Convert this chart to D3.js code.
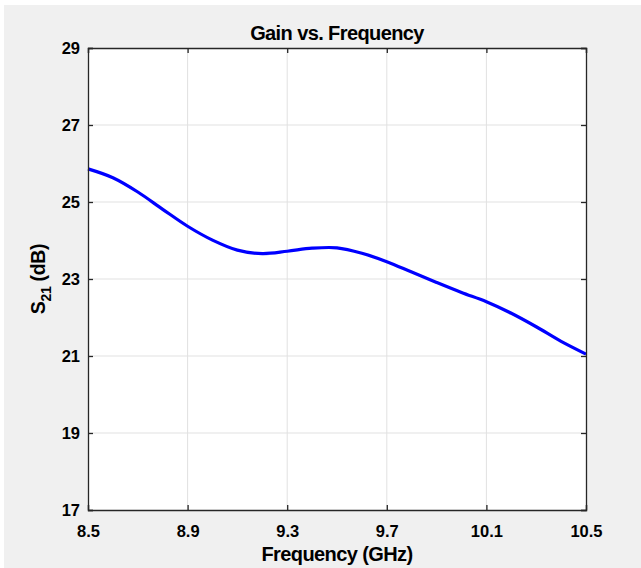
<!DOCTYPE html>
<html>
<head>
<meta charset="utf-8">
<script src="https://cdn.jsdelivr.net/npm/d3@7"></script>
<style>
  html, body { margin: 0; padding: 0; background: #ffffff; }
  svg { display: block; }
  text { font-family: "Liberation Sans", Arial, Helvetica, sans-serif; font-weight: bold; fill: #000; }
</style>
</head>
<body>
<script>
// ---- data ----
const frequency = [8.5, 8.6, 8.7, 8.8, 8.9, 9.0, 9.1, 9.2, 9.3, 9.4, 9.5, 9.6, 9.7, 9.8, 9.9, 10.0, 10.1, 10.2, 10.3, 10.4, 10.5];
const gain      = [25.86, 25.63, 25.26, 24.81, 24.37, 24.01, 23.75, 23.66, 23.72, 23.80, 23.81, 23.67, 23.45, 23.18, 22.91, 22.65, 22.41, 22.11, 21.76, 21.38, 21.05];
const xTicks = [8.5, 8.9, 9.3, 9.7, 10.1, 10.5];
const yTicks = [17, 19, 21, 23, 25, 27, 29];
const titleText = "Gain vs. Frequency";
const xLabelText = "Frequency (GHz)";

// ---- layout ----
const W = 641, H = 568;
const L = 88, R = 586, T = 48, B = 510;

const svg = d3.select("body").append("svg").attr("width", W).attr("height", H);
svg.append("rect").attr("x", 4).attr("y", 5).attr("width", W - 4).attr("height", H - 5).attr("fill", "#f0f0f0");
svg.append("rect").attr("x", L).attr("y", T).attr("width", R - L).attr("height", B - T).attr("fill", "#ffffff");

const x = d3.scaleLinear().domain([8.5, 10.5]).range([L, R]);
const y = d3.scaleLinear().domain([17, 29]).range([B, T]);

// grid
const grid = svg.append("g");
grid.selectAll("line.gx").data(xTicks.slice(1, -1)).join("line")
  .attr("x1", d => x(d)).attr("x2", d => x(d)).attr("y1", T).attr("y2", B)
  .attr("stroke", "#e1e1e1").attr("stroke-width", 1);
grid.selectAll("line.gy").data(yTicks.slice(1, -1)).join("line")
  .attr("y1", d => y(d)).attr("y2", d => y(d)).attr("x1", L).attr("x2", R)
  .attr("stroke", "#e1e1e1").attr("stroke-width", 1);

// line
const line = d3.line().x((d, i) => x(frequency[i])).y(d => y(d)).curve(d3.curveCatmullRom.alpha(0.5));
svg.append("path").datum(gain).attr("d", line)
  .attr("fill", "none").attr("stroke", "#0000ff").attr("stroke-width", 3.2)
  .attr("stroke-linejoin", "round").attr("stroke-linecap", "butt");

// axes
const axisColor = "#262626";
const tk = 5;
const fmt = d => String(d);
const gxB = svg.append("g").attr("transform", `translate(0,${B})`)
  .call(d3.axisBottom(x).tickValues(xTicks).tickSize(-tk).tickPadding(10).tickFormat(fmt));
const gxT = svg.append("g").attr("transform", `translate(0,${T})`)
  .call(d3.axisTop(x).tickValues(xTicks).tickSize(-tk).tickFormat(""));
const gyL = svg.append("g").attr("transform", `translate(${L},0)`)
  .call(d3.axisLeft(y).tickValues(yTicks).tickSize(-tk).tickPadding(8).tickFormat(fmt));
const gyR = svg.append("g").attr("transform", `translate(${R},0)`)
  .call(d3.axisRight(y).tickValues(yTicks).tickSize(-tk).tickFormat(""));
[gxB, gxT, gyL, gyR].forEach(g => {
  g.select(".domain").attr("stroke", axisColor).attr("stroke-width", 1.3);
  g.selectAll(".tick line").attr("stroke", axisColor).attr("stroke-width", 1.3);
  g.selectAll("text").attr("fill", "#000").style("font-size", "16.5px")
    .style("font-family", "'Liberation Sans', Arial, sans-serif").style("font-weight", "bold");
});
gxB.selectAll(".tick text").attr("dy", null).attr("y", 27);
gyL.selectAll(".tick text").attr("dy", "0.35em").attr("x", -8);

// title
svg.append("text").attr("x", (L + R) / 2).attr("y", 40).attr("text-anchor", "middle")
  .style("font-size", "20px").style("letter-spacing", "-0.6px").text(titleText);

// x label
svg.append("text").attr("x", (L + R) / 2).attr("y", 561).attr("text-anchor", "middle")
  .style("font-size", "20px").style("letter-spacing", "-0.6px").text(xLabelText);

// y label
const yl = svg.append("text").attr("transform", `translate(45,${(T + B) / 2}) rotate(-90)`)
  .attr("text-anchor", "middle").style("font-size", "19.5px").style("letter-spacing", "-0.3px");
yl.append("tspan").text("S");
yl.append("tspan").attr("dy", 6).style("font-size", "14px").text("21");
yl.append("tspan").attr("dy", -6).text(" (dB)");
</script>
</body>
</html>
